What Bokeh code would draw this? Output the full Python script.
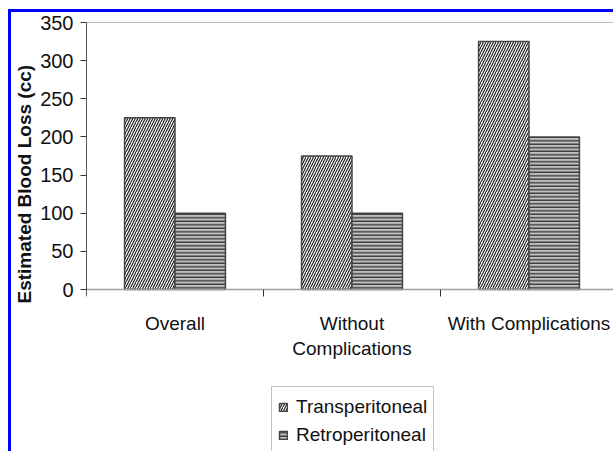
from bokeh.plotting import figure
from bokeh.models import (Range1d, FixedTicker, Span, Legend, LegendItem,
                          ColumnDataSource)
from bokeh.embed import file_html
from bokeh.resources import INLINE

categories = ["Overall", "Without\nComplications", "With Complications"]
transperitoneal = [225, 175, 325]
retroperitoneal = [100, 100, 200]
y_ticks = [0, 50, 100, 150, 200, 250, 300, 350]
y_title = "Estimated Blood Loss (cc)"

FONT = "Liberation Sans"
OFF_X, OFF_Y = 11, 12           # figure offset inside the page (blue rule sits just outside)
W, H = 613 - OFF_X, 451 - OFF_Y
LEFT, TOP, ZERO_Y = 86 - OFF_X, 22 - OFF_Y, 289 - OFF_Y
CAT_PX = 177.0
Y_MAX = 350
px_per_unit = (ZERO_Y - TOP) / Y_MAX
y_start = -(H - ZERO_Y) / px_per_unit

p = figure(width=W, height=H, output_backend="svg", toolbar_location=None,
           x_range=Range1d(0, (W - LEFT) / CAT_PX), y_range=Range1d(y_start, Y_MAX),
           min_border_left=LEFT, min_border_top=TOP, min_border_right=0,
           min_border_bottom=0,
           margin=(OFF_Y, 0, 0, OFF_X),
           styles={"box-shadow": "0 0 0 3px #0000ff"})
p.outline_line_color = None
p.grid.visible = False
p.background_fill_color = "white"
p.border_fill_color = "white"

idx = list(range(len(categories)))
bw = 0.285
src_t = ColumnDataSource(dict(x=[i + 0.5 - bw / 2 for i in idx], top=transperitoneal))
src_r = ColumnDataSource(dict(x=[i + 0.5 + bw / 2 for i in idx], top=retroperitoneal))

rt = p.vbar(x="x", bottom=0, top="top", width=bw, source=src_t, fill_color="white",
            line_color="#444444", line_width=1.5, hatch_pattern="/",
            hatch_color="#222222", hatch_scale=5, hatch_weight=1.2)
rr = p.vbar(x="x", bottom=0, top="top", width=bw, source=src_r, fill_color="#c0c0c0",
            line_color="#444444", line_width=1.5, hatch_pattern="-",
            hatch_color="#222222", hatch_scale=3.5, hatch_weight=1.2)

# frame top line
p.add_layout(Span(location=Y_MAX, dimension="width", line_color="#777777", line_width=1))

# x axis, pinned at y = 0
xa = p.xaxis[0]
xa.fixed_location = 0
xa.ticker = FixedTicker(ticks=[i + 0.5 for i in idx], minor_ticks=[0, 1, 2, 3])
xa.major_label_overrides = {i + 0.5: c for i, c in zip(idx, categories)}
xa.major_tick_out = 0
xa.major_tick_in = 0
xa.minor_tick_out = 7
xa.minor_tick_in = 0
xa.minor_tick_line_color = "#333333"
xa.axis_line_color = "#a0a0a0"
xa.axis_line_width = 1.5
xa.major_label_standoff = 16
xa.major_label_text_font = FONT
xa.major_label_text_font_size = "19px"
xa.major_label_text_color = "#111111"

# y axis
ya = p.yaxis[0]
ya.ticker = FixedTicker(ticks=y_ticks, minor_ticks=[])
ya.bounds = (-8, Y_MAX)
ya.major_tick_out = 6
ya.major_tick_in = 0
ya.major_tick_line_color = "#333333"
ya.axis_line_color = "#555555"
ya.major_label_standoff = 7
ya.major_label_text_font = FONT
ya.major_label_text_font_size = "20px"
ya.major_label_text_color = "#111111"
# leading no-break spaces lift the title so it sits where the reference has it
ya.axis_label = "\u00a0" * 20 + y_title
ya.axis_label_text_font = FONT
ya.axis_label_text_font_style = "bold"
ya.axis_label_text_font_size = "19px"
ya.axis_label_text_line_height = 0.8
ya.axis_label_text_color = "#111111"
ya.axis_label_standoff = 2

legend = Legend(items=[LegendItem(label="Transperitoneal", renderers=[rt]),
                       LegendItem(label="Retroperitoneal", renderers=[rr])],
                location=(271 - 86, -5), orientation="vertical")
legend.label_text_font = FONT
legend.label_text_font_size = "19px"
legend.label_text_color = "#111111"
legend.glyph_width = 10
legend.glyph_height = 10
legend.label_height = 28
legend.spacing = 0
legend.padding = 6
legend.margin = 0
legend.label_standoff = 8
legend.border_line_color = "#888888"
legend.background_fill_color = "white"
legend.background_fill_alpha = 1
p.add_layout(legend, "center")

open("out.html", "w").write(file_html(p, INLINE))
